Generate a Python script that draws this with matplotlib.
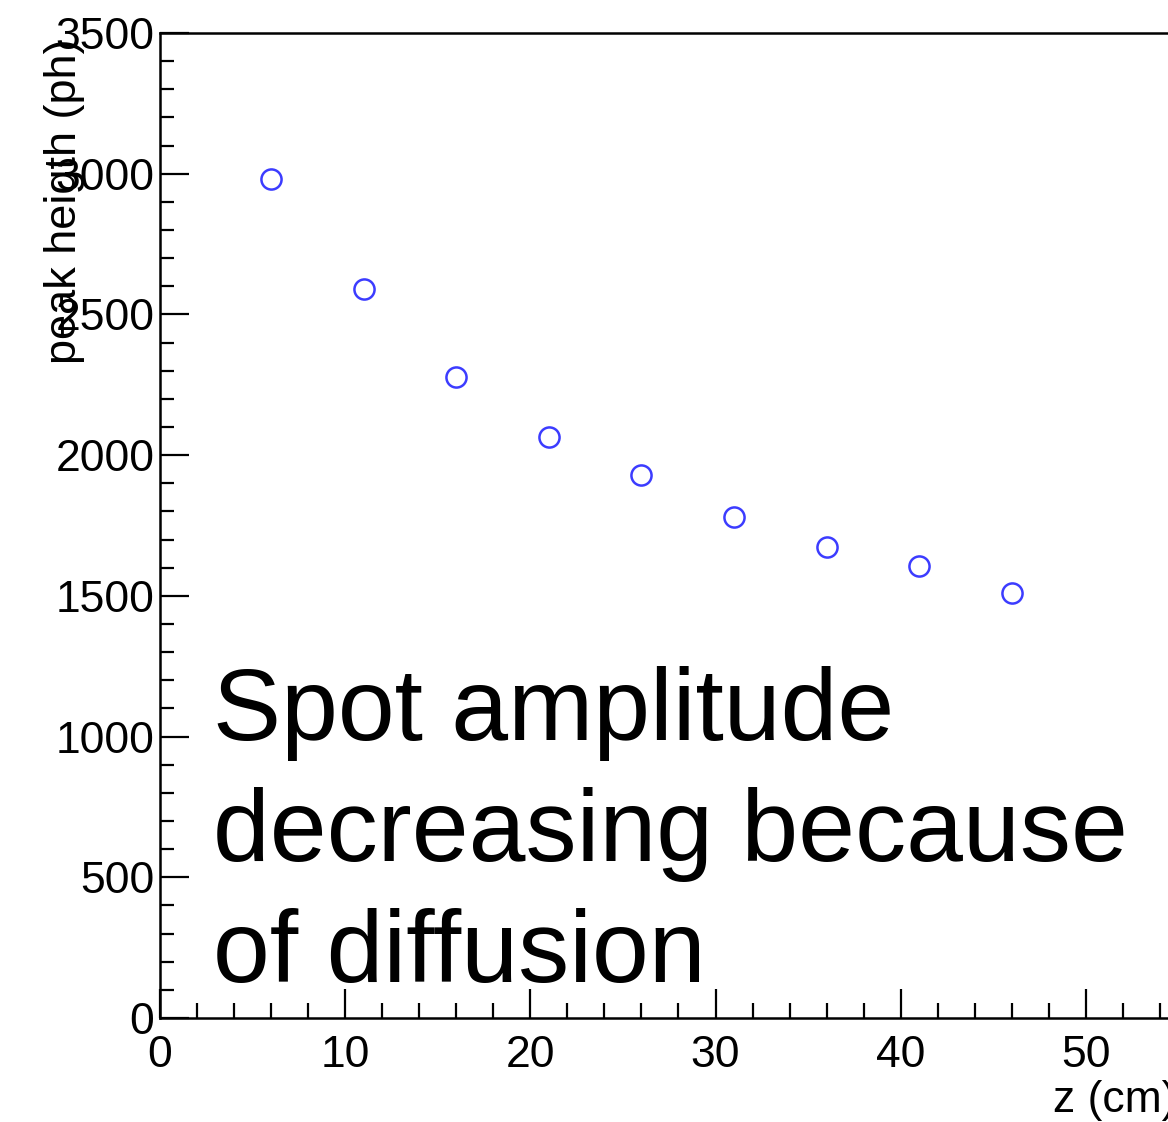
import matplotlib
matplotlib.use("Agg")
import matplotlib.pyplot as plt
from matplotlib.ticker import MultipleLocator

z_cm = [6, 11, 16, 21, 26, 31, 36, 41, 46]
peak_height = [2980, 2590, 2279, 2064, 1929, 1779, 1673, 1606, 1511]
annotation_lines = ["Spot amplitude", "decreasing because", "of diffusion"]

plt.rcParams['font.family'] = ['Liberation Sans', 'DejaVu Sans']

W, H = 1168, 1122
fig = plt.figure(figsize=(W / 100, H / 100), dpi=100)
left, bottom, top = 160, 1018, 33
ax = fig.add_axes([left / W, (H - bottom) / H, 1111 / W, (bottom - top) / H])

ax.plot(z_cm, peak_height, linestyle='none', marker='o', markersize=14.5,
        markerfacecolor='none', markeredgecolor='#3c3cff', markeredgewidth=1.8,
        clip_on=False)

ax.set_xlim(0, 60)
ax.set_ylim(0, 3500)
ax.xaxis.set_major_locator(MultipleLocator(10))
ax.xaxis.set_minor_locator(MultipleLocator(2))
ax.yaxis.set_major_locator(MultipleLocator(500))
ax.yaxis.set_minor_locator(MultipleLocator(100))

for s in ax.spines.values():
    s.set_linewidth(1.8)
ax.tick_params(which='both', direction='in', width=1.6, labelsize=32)
ax.tick_params(axis='x', which='major', length=21, pad=12)
ax.tick_params(axis='x', which='minor', length=10.5)
ax.tick_params(axis='y', which='major', length=21, pad=4)
ax.tick_params(axis='y', which='minor', length=10)
ax.tick_params(top=False, right=False)

fig.text(65 / W, 1 - 38 / H, "peak heigth (ph)", rotation=90, ha='center', va='top',
         fontsize=32.5)
fig.text(1053 / W, 1 - 1112 / H, "z (cm)", ha='left', va='baseline', fontsize=32)

baselines = [740, 861, 982]
for line, yb in zip(annotation_lines, baselines):
    fig.text(213 / W, 1 - yb / H, line, ha='left', va='baseline', fontsize=73.5)

fig.savefig("out.png", dpi=100)
